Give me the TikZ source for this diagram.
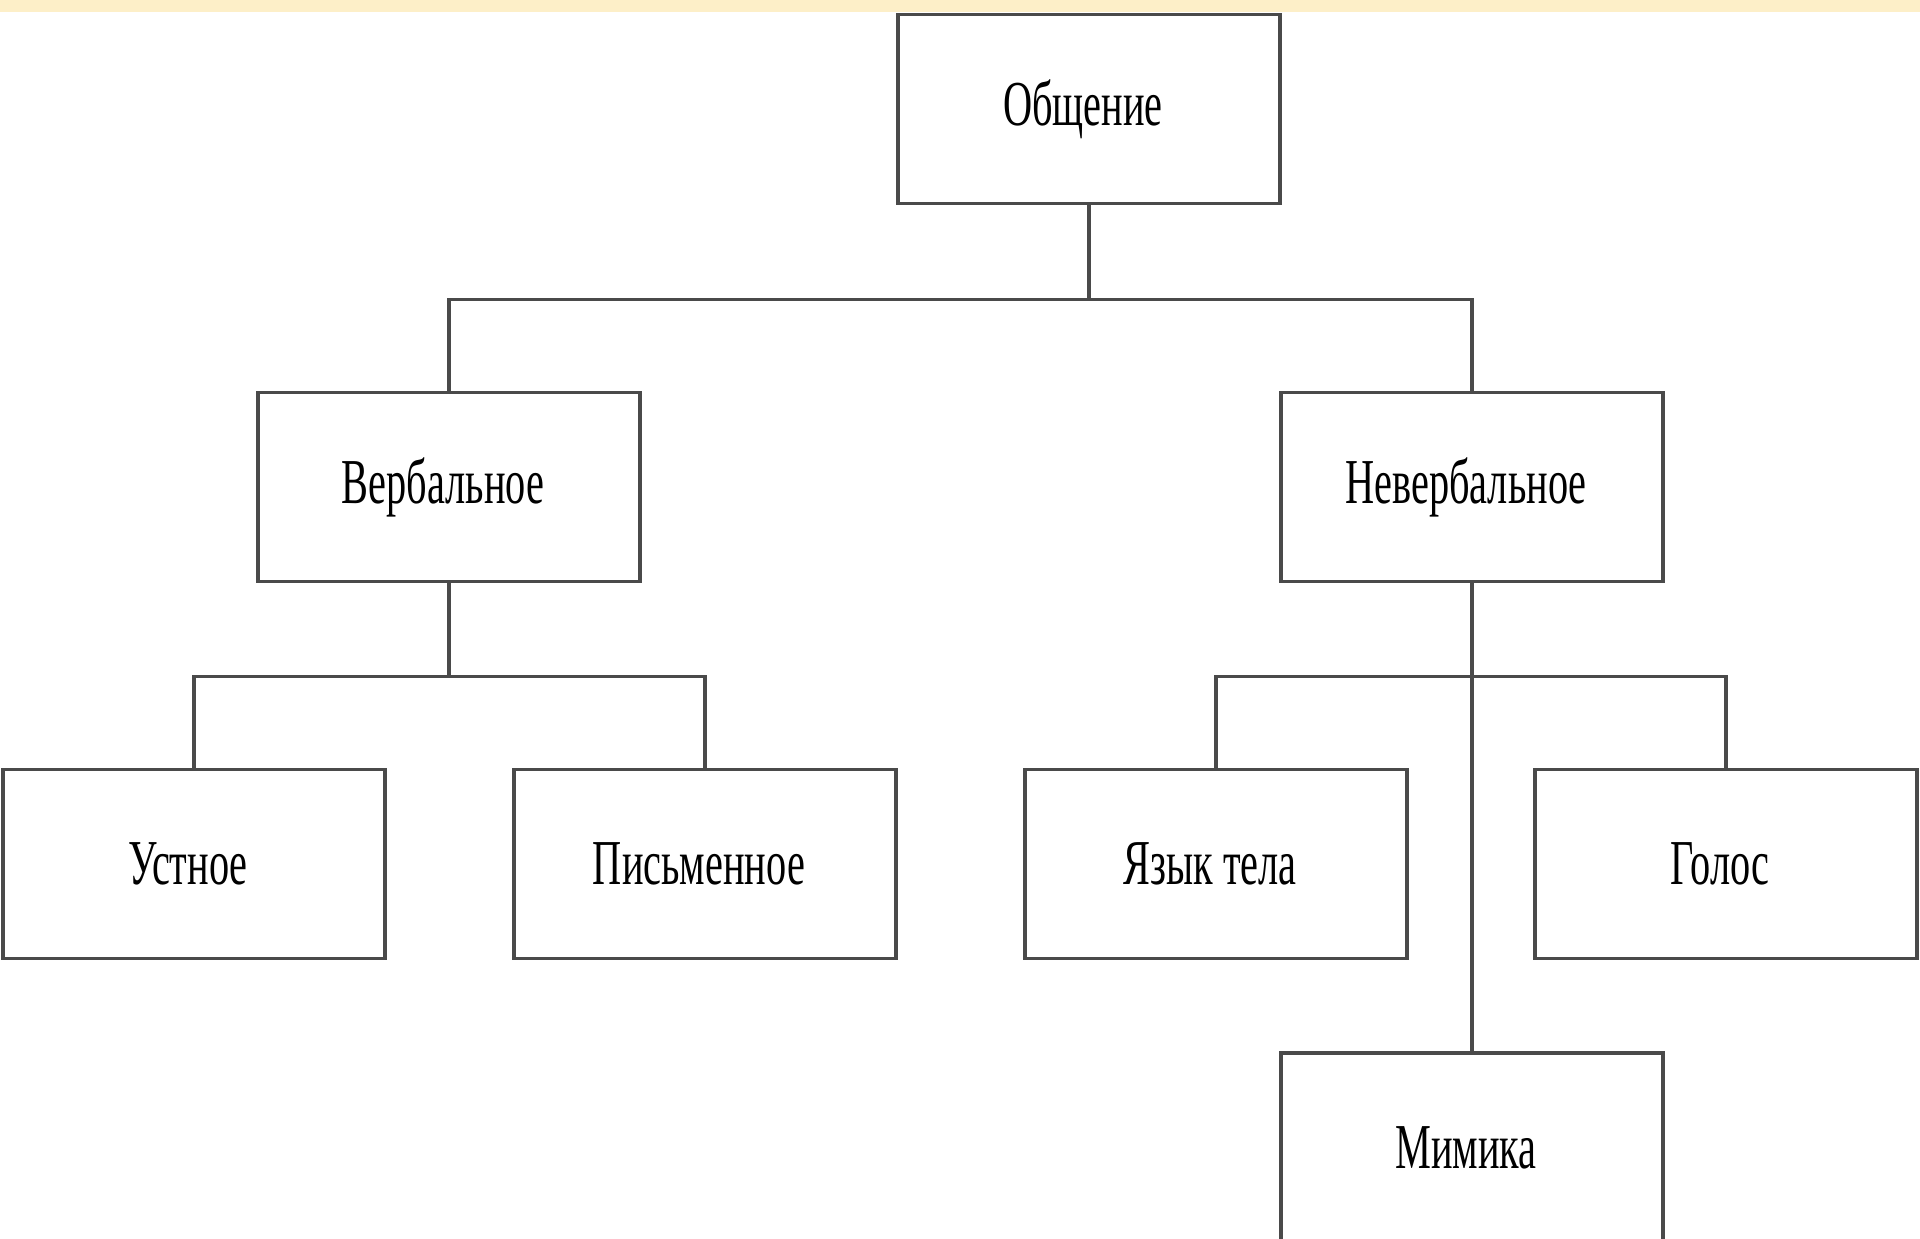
\documentclass[tikz,border=0pt]{standalone}
\usepackage{fontspec}
\setmainfont{Liberation Serif}
\newcommand{\boxtxt}[1]{\hspace*{-12pt}\raisebox{-4pt}{\scalebox{0.63}[1]{#1}}}
\begin{document}
\begin{tikzpicture}[x=1pt,y=-1pt,
  box/.style={draw=linegray,line width=3.2pt,fill=white,rectangle,minimum width=382pt,minimum height=189pt,inner sep=0pt,font=\fontsize{64}{70}\selectfont},
  conn/.style={draw=linegray,line width=3.2pt}]
\definecolor{linegray}{HTML}{4A4A4A}
\definecolor{band}{HTML}{FDEFC8}
\clip (0,0) rectangle (1920,1239);
\fill[white] (0,0) rectangle (1920,1239);
\fill[band] (0,0) rectangle (1920,12);
\node[box] (obsh) at (1089,109) {\boxtxt{Общение}};
\node[box] (verb) at (449,487) {\boxtxt{Вербальное}};
\node[box] (nonverb) at (1472,487) {\boxtxt{Невербальное}};
\node[box] (ustn) at (194,864) {\boxtxt{Устное}};
\node[box] (pism) at (705,864) {\boxtxt{Письменное}};
\node[box] (yazyk) at (1216,864) {\boxtxt{Язык тела}};
\node[box] (golos) at (1726,864) {\boxtxt{Голос}};
\node[box] (mimika) at (1472,1147.5) {\boxtxt{Мимика}};
\draw[conn] (obsh.south) -- ++(0,94.5) coordinate (j1);
\draw[conn] (verb.north) |- (j1) -| (nonverb.north);
\draw[conn] (verb.south) -- ++(0,93) coordinate (j2);
\draw[conn] (ustn.north) |- (j2) -| (pism.north);
\draw[conn] (nonverb.south) -- (mimika.north);
\coordinate (j3) at (nonverb.south |- j2);
\draw[conn] (yazyk.north) |- (j3) -| (golos.north);
\end{tikzpicture}
\end{document}
